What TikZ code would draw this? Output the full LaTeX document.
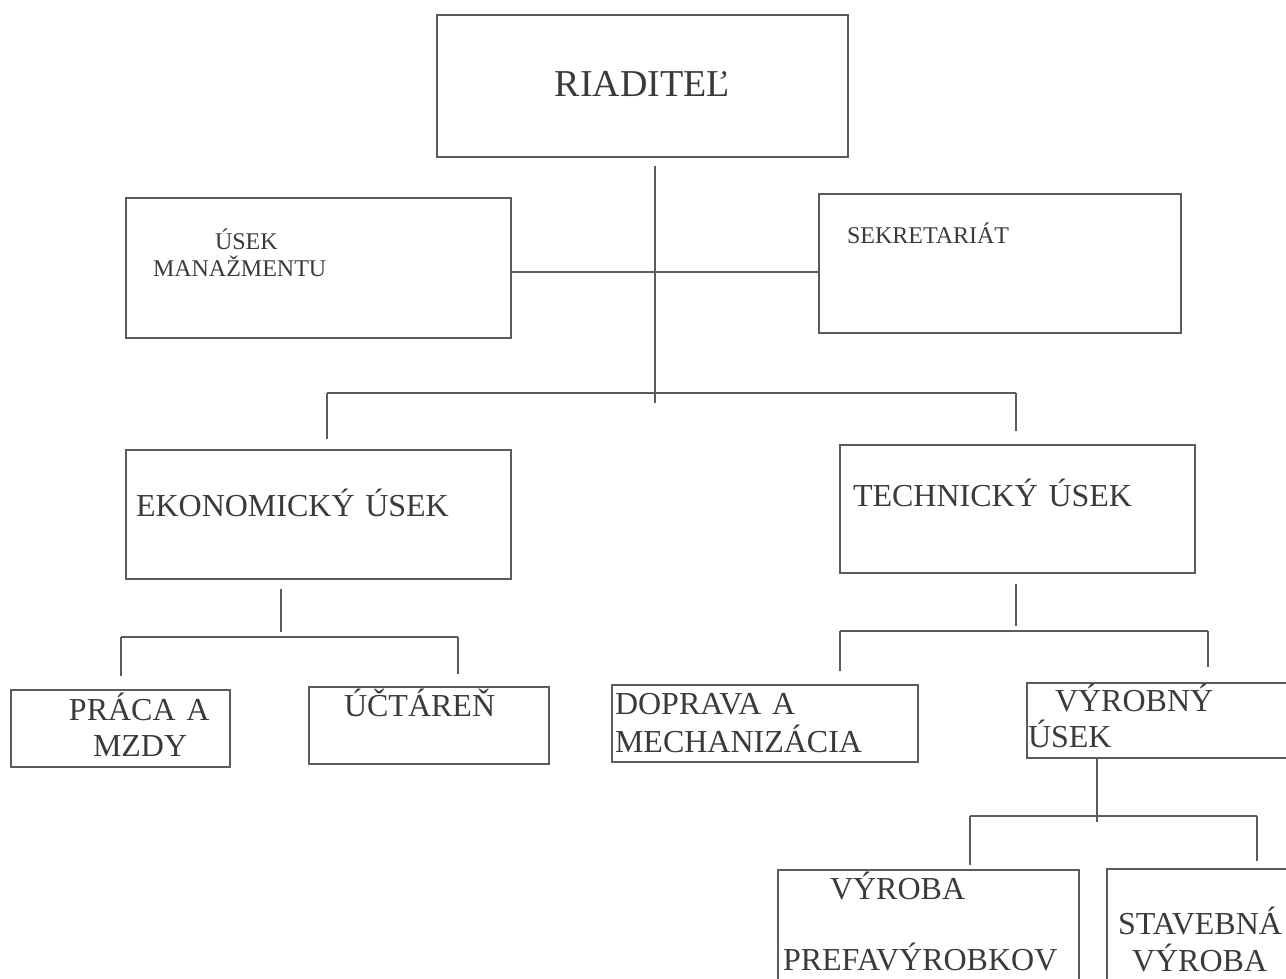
\documentclass[tikz,border=0pt]{standalone}
\usepackage{fontspec}
\setmainfont{Liberation Serif}
\usetikzlibrary{positioning}
\definecolor{ink}{HTML}{3A3A3A}
\definecolor{rulegray}{HTML}{5C5C5C}
\setlength{\parindent}{0pt}

\begin{document}
\begin{tikzpicture}[x=1pt,y=1pt,on grid,
    box/.style={draw=rulegray,line width=1.3pt,inner sep=0pt,align=left,text=ink},
    big/.style={font=\fontsize{38}{44}\selectfont},
    mid/.style={font=\fontsize{32}{36}\selectfont},
    small/.style={font=\fontsize{24}{27}\selectfont},
    link/.style={color=rulegray,line width=1.3pt}]

   \useasboundingbox (0,0) rectangle (1286,978);

   \node[box,big,align=center,text width=411pt,text height=82pt,text depth=60pt] (riad) at (642.5,892) {RIADITEĽ};
   \node[box,small,text width=385pt,text height=52pt,text depth=88pt] (man) [below left=182pt and 324pt of riad] {\hspace*{89pt}ÚSEK\\\hspace*{27pt}MANAŽMENTU};
   \node[box,small,text width=362pt,text height=50pt,text depth=89pt] (sekr) [below right=177.5pt and 357.5pt of riad] {\hspace*{28pt}SEKRETARIÁT};
   \node[box,mid,text width=385pt,text height=67pt,text depth=62pt] (ekon) [below=246.5pt of man] {\hspace*{10pt}EKONOMICKÝ ÚSEK};
   \node[box,mid,text width=355pt,text height=62pt,text depth=66pt] (tech) [below right=245.5pt and 17.5pt of sekr] {\hspace*{13pt}TECHNICKÝ ÚSEK};
   \node[box,mid,text width=219pt,text height=31pt,text depth=46pt] (prac) [below left=214pt and 198pt of ekon] {\hspace*{58pt}PRÁCA A\\\hspace*{82pt}MZDY};
   \node[box,mid,text width=240pt,text height=30pt,text depth=47pt] (uct) [below right=211pt and 110.5pt of ekon] {\hspace*{35pt}ÚČTÁREŇ};
   \node[box,mid,text width=306pt,text height=30pt,text depth=47pt] (dopr) [below left=214.5pt and 252.5pt of tech] {\hspace*{3pt}DOPRAVA A\\[2pt]\hspace*{3pt}MECHANIZÁCIA};
   \node[box,mid,text width=273pt,text height=29pt,text depth=46pt] (vyrus) [below right=211.5pt and 146pt of tech] {\hspace*{28pt}VÝROBNÝ\\\hspace*{1pt}ÚSEK};
   \node[box,mid,text width=301pt,text height=30pt,text depth=95pt] (prefa) [below left=212pt and 235pt of vyrus] {\hspace*{52pt}VÝROBA\\[35pt]\hspace*{5pt}PREFAVÝROBKOV};
   \node[box,mid,text width=193pt,text height=65pt,text depth=61pt] (stav) [below right=211.5pt and 40pt of vyrus] {\hspace*{11pt}STAVEBNÁ\\[1pt]\hspace*{25pt}VÝROBA};

   % junctions of the connectors
   \coordinate (hub) at (655,706);
   \coordinate (bar1) at (655,585);
   \coordinate (s-ekon) at (327,585);
   \coordinate (s-tech) at (1016,585);
   \coordinate (bar2) at (281,341);
   \coordinate (s-prac) at (121,341);
   \coordinate (s-uct) at (458,341);
   \coordinate (bar3) at (1016,347);
   \coordinate (s-dopr) at (840,347);
   \coordinate (s-vyr) at (1208,347);
   \coordinate (bar4) at (1097,162);
   \coordinate (s-prefa) at (970,162);
   \coordinate (s-stav) at (1257,162);

   \path[link]
    (riad.south -| hub) edge[shorten <=8pt,shorten >=-10pt] (bar1)
    (man.east |- hub) edge (sekr.west |- hub)
    (s-ekon) edge (s-tech)
    (s-ekon) edge[shorten >=10pt] (s-ekon |- ekon.north)
    (s-tech) edge[shorten >=13pt] (s-tech |- tech.north)
    (ekon.south -| bar2) edge[shorten <=9pt,shorten >=5pt] (bar2)
    (s-prac) edge (s-uct)
    (s-prac) edge[shorten >=13pt] (s-prac |- prac.north)
    (s-uct) edge[shorten >=12pt] (s-uct |- uct.north)
    (tech.south -| bar3) edge[shorten <=10pt,shorten >=5pt] (bar3)
    (s-dopr) edge (s-vyr)
    (s-dopr) edge[shorten >=13pt] (s-dopr |- dopr.north)
    (s-vyr) edge[shorten >=15pt] (s-vyr |- vyrus.north)
    (vyrus.south -| bar4) edge[shorten >=-6pt] (bar4)
    (s-prefa) edge (s-stav)
    (s-prefa) edge[shorten >=4pt] (s-prefa |- prefa.north)
    (s-stav) edge[shorten >=7pt] (s-stav |- stav.north);

\end{tikzpicture}
\end{document}
